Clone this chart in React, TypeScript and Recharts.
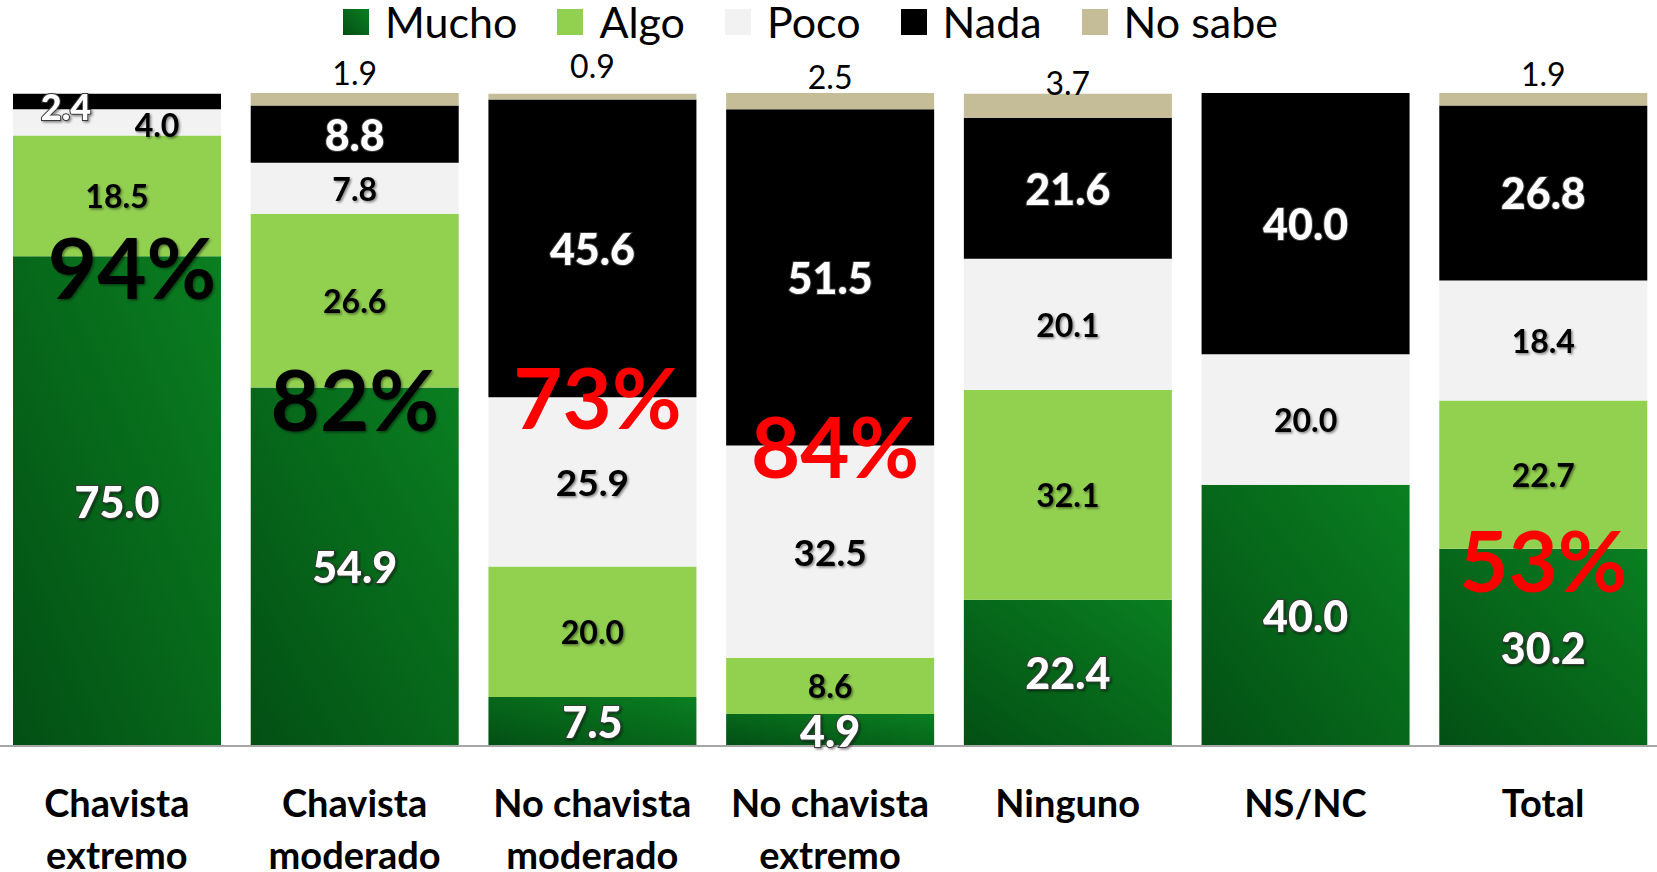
import React from 'react';
import { BarChart, Bar, XAxis, YAxis, LabelList } from 'recharts';

const categories = [
  'Chavista\nextremo',
  'Chavista\nmoderado',
  'No chavista\nmoderado',
  'No chavista\nextremo',
  'Ninguno',
  'NS/NC',
  'Total',
];

const mucho = [75.0, 54.9, 7.5, 4.9, 22.4, 40.0, 30.2];
const algo = [18.5, 26.6, 20.0, 8.6, 32.1, 0, 22.7];
const poco = [4.0, 7.8, 25.9, 32.5, 20.1, 20.0, 18.4];
const nada = [2.4, 8.8, 45.6, 51.5, 21.6, 40.0, 26.8];
const noSabe = [0, 1.9, 0.9, 2.5, 3.7, 0, 1.9];

// big headline percentages, drawn at the top of a given segment
const headline = [
  { index: 0, series: 'mucho', text: '94%', color: '#000000' },
  { index: 1, series: 'mucho', text: '82%', color: '#000000' },
  { index: 2, series: 'poco', text: '73%', color: '#ff0000' },
  { index: 3, series: 'poco', text: '84%', color: '#ff0000' },
  { index: 6, series: 'mucho', text: '53%', color: '#ff0000' },
];

const seriesNames = ['Mucho', 'Algo', 'Poco', 'Nada', 'No sabe'];
const seriesKeys = ['mucho', 'algo', 'poco', 'nada', 'noSabe'];
const seriesColors = ['url(#gMucho)', '#92d050', '#f2f2f2', '#000000', '#c4bd97'];
const legendColors = ['#0a7420', '#92d050', '#f2f2f2', '#000000', '#c4bd97'];

const data = categories.map((name, i) => ({
  idx: i,
  name,
  mucho: mucho[i],
  algo: algo[i],
  poco: poco[i],
  nada: nada[i],
  noSabe: noSabe[i],
}));

const FONT = 'Lato, "Open Sans", sans-serif';

// hand nudges for labels that Excel had dragged around
const nudge: Record<string, [number, number]> = {
  'nada:0': [-51, 5],
  'poco:0': [40, 2],
};
// vertical offset of the "No sabe" labels above each bar top
const topDy = [0, -21, -28, -17, -11, 0, -20];

const unpack = (v: any): [number, number] => {
  const [i, val] = String(v).split('|');
  return [Number(i), Number(val)];
};

const makeLabel = (series: string, kind: 'white' | 'black') => (p: any) => {
  const { x, y, width, height, value } = p;
  const [index, val] = unpack(value);
  if (!val) return null;
  const [dx, dy] = nudge[`${series}:${index}`] || [0, 0];
  const cx = x + width / 2 + dx;
  const cy = y + height / 2 + dy;
  const big = headline.find((h) => h.index === index && h.series === series);
  const white = kind === 'white';
  const small = index === 0 && series === 'nada';
  const pocoBig = series === 'poco' && (index === 2 || index === 3);
  return (
    <g>
      <text
        x={cx}
        y={cy}
        textAnchor="middle"
        dominantBaseline="central"
        fontFamily={FONT}
        fontWeight={white ? 900 : 700}
        fontSize={white ? (small ? 36 : 43) : pocoBig ? 37 : 32}
        fill={white ? '#ffffff' : '#000000'}
        stroke={white ? '#3a3a3a' : 'none'}
        strokeWidth={white ? 2 : 0}
        paintOrder="stroke"
        filter="url(#txtShadow)"
      >
        {val.toFixed(1)}
      </text>
      {big && (
        <text
          x={x + width / 2 + (index === 0 ? 15 : index === 2 || index === 3 ? 5 : 0)}
          y={y + (series === 'mucho' ? 10 : -1)}
          textAnchor="middle"
          dominantBaseline="central"
          fontFamily={FONT}
          fontWeight={700}
          fontSize={85}
          fill={big.color}
          filter={big.color === '#000000' ? 'url(#txtShadow)' : undefined}
        >
          {big.text}
        </text>
      )}
    </g>
  );
};

const topLabel = (p: any) => {
  const { x, y, width, value } = p;
  const [index, val] = unpack(value);
  if (!val) return null;
  return (
    <text
      x={x + width / 2}
      y={y + topDy[index]}
      textAnchor="middle"
      dominantBaseline="central"
      fontFamily={FONT}
      fontSize={32}
      fill="#000000"
    >
      {val.toFixed(1)}
    </text>
  );
};

const CategoryTick = (p: any) => {
  const { x, y, payload } = p;
  const lines = String(payload.value).split('\n');
  return (
    <g>
      {lines.map((l, i) => (
        <text
          key={i}
          x={x}
          y={y + 56 + i * 52}
          textAnchor="middle"
          dominantBaseline="central"
          fontFamily={FONT}
          fontWeight={700}
          fontSize={38}
          fill="#000000"
        >
          {l}
        </text>
      ))}
    </g>
  );
};

const labelKinds: Record<string, 'white' | 'black'> = {
  mucho: 'white',
  algo: 'black',
  poco: 'black',
  nada: 'white',
};

export default function App() {
  return (
    <div style={{ position: 'absolute', left: 0, top: 0, width: 1657, height: 872, overflow: 'hidden', background: '#ffffff' }}>
      <div
        style={{
          position: 'absolute',
          left: 343,
          top: 0,
          height: 44,
          display: 'flex',
          alignItems: 'center',
          gap: 40,
          fontFamily: FONT,
          fontSize: 43,
          color: '#000000',
          zIndex: 2,
        }}
      >
        {seriesNames.map((n, i) => (
          <div key={n} style={{ display: 'flex', alignItems: 'center', gap: 16 }}>
            <div
              style={{
                width: 26,
                height: 26,
                background: i === 0 ? 'linear-gradient(45deg, #034f14, #0a7f21)' : legendColors[i],
              }}
            />
            <span style={{ lineHeight: '44px' }}>{n}</span>
          </div>
        ))}
      </div>
      <div style={{ position: 'absolute', left: -2, top: 0 }}>
        <BarChart width={1664} height={872} data={data} margin={{ top: 93, right: 0, bottom: 6, left: 0 }} barSize={208}>
          <defs>
            <linearGradient id="gMucho" x1="0" y1="1" x2="1" y2="0">
              <stop offset="0%" stopColor="#034f14" />
              <stop offset="100%" stopColor="#0a7f21" />
            </linearGradient>
            <filter id="txtShadow" x="-20%" y="-20%" width="140%" height="140%">
              <feDropShadow dx="1.5" dy="1.5" stdDeviation="1.2" floodColor="#000000" floodOpacity="0.45" />
            </filter>
          </defs>
          <XAxis
            dataKey="name"
            axisLine={{ stroke: '#a6a6a6', strokeWidth: 2 }}
            tickLine={false}
            tickSize={0}
            tickMargin={0}
            height={120}
            interval={0}
            tick={<CategoryTick />}
          />
          <YAxis hide domain={[0, 100]} />
          {seriesKeys.map((k, i) => (
            <Bar key={k} dataKey={k} stackId="a" fill={seriesColors[i]} isAnimationActive={false}>
              <LabelList
                dataKey={(d: any) => `${d.idx}|${d[k]}`}
                content={k === 'noSabe' ? topLabel : makeLabel(k, labelKinds[k])}
              />
            </Bar>
          ))}
        </BarChart>
      </div>
    </div>
  );
}
